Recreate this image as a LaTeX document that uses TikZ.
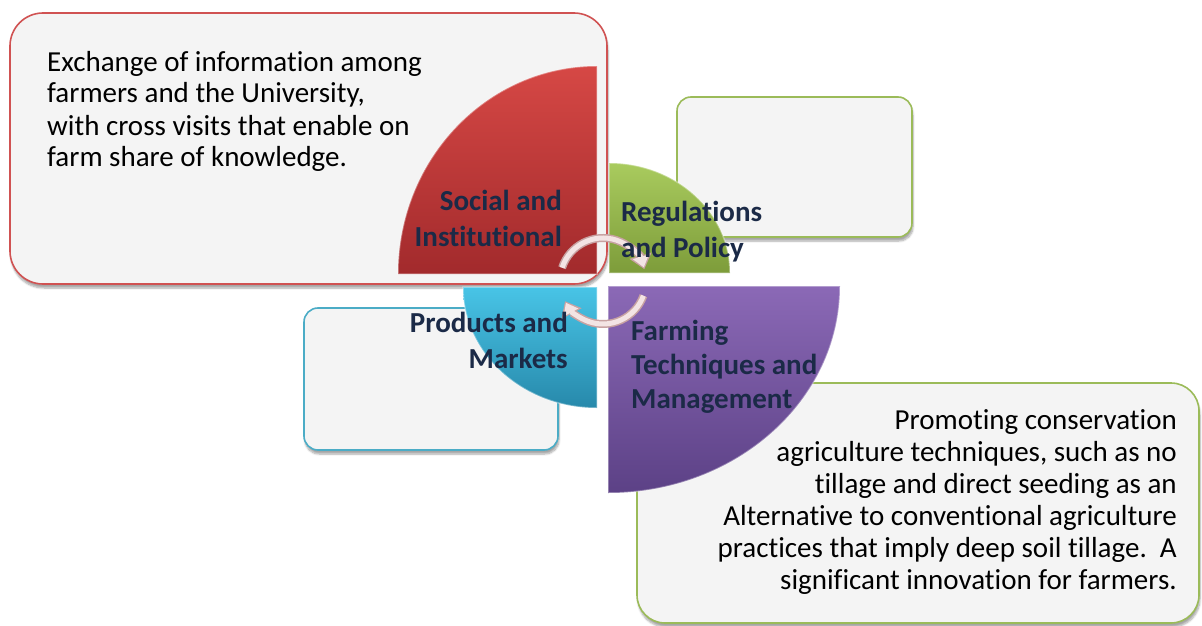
\documentclass[tikz,border=0pt]{standalone}
\usepackage{fontspec}
\setmainfont{Carlito}[Ligatures=NoCommon]
\usetikzlibrary{arrows.meta,shadows.blur}
\definecolor{navy}{HTML}{1B2A47}
\definecolor{boxfill}{HTML}{F4F4F4}
\definecolor{redB}{HTML}{D05252}
\definecolor{greenB}{HTML}{9BBB59}
\definecolor{cyanB}{HTML}{4BACC6}
\definecolor{redT}{HTML}{D64845}
\definecolor{redD}{HTML}{A22A2C}
\definecolor{greenT}{HTML}{A9CB5E}
\definecolor{greenD}{HTML}{7D9C3A}
\definecolor{cyanT}{HTML}{48C4E6}
\definecolor{cyanD}{HTML}{2789AB}
\definecolor{purT}{HTML}{8B69B6}
\definecolor{purD}{HTML}{5C4186}
\definecolor{arrowfill}{HTML}{F3E4E4}
\definecolor{arrowedge}{HTML}{C8A2A2}
\tikzset{
  box/.style={draw, fill=boxfill, line width=1.6pt, inner sep=0pt, outer sep=0pt,
    blur shadow={shadow xshift=1pt, shadow yshift=-4pt, shadow blur steps=6, shadow opacity=35}},
  quad/.style={draw=white, draw opacity=0.35, line width=1.5pt},
  body/.style={font=\fontsize{29}{32}\selectfont, inner sep=0pt, text=black},
  label/.style={font=\fontsize{29}{36}\selectfont\bfseries, inner sep=0pt, text=navy},
  arrowout/.style={draw=arrowedge, line width=8pt, -{Triangle[length=14pt, width=22pt]}},
  arrowin/.style={draw=arrowfill, line width=5pt, -{Triangle[length=11pt, width=16pt]}, shorten >=1.8pt}
}
\begin{document}
\begin{tikzpicture}[x=1pt,y=-1pt]
\useasboundingbox (0,0) rectangle (1202,626);
% boxes
\node[box, draw=redB, rounded corners=33pt, minimum width=597pt, minimum height=271pt] (redbox) at (308.5,148.5) {};
\node[box, draw=greenB, rounded corners=14pt, minimum width=235pt, minimum height=140pt] (greenbox) at (794.5,167) {};
\node[box, draw=cyanB, rounded corners=14pt, minimum width=254pt, minimum height=142pt] (cyanbox) at (431,379) {};
\node[box, draw=greenB, rounded corners=28pt, minimum width=562pt, minimum height=240pt] (purbox) at (918,503) {};
% quadrants
\path[quad, top color=redT, bottom color=redD] (597,274) -- (398,274) arc[start angle=180, end angle=270, x radius=199, y radius=208] -- cycle;
\path[quad, top color=greenT, bottom color=greenD] (609,273) -- (609,163) arc[start angle=270, end angle=360, x radius=121, y radius=110] -- cycle;
\path[quad, top color=cyanT, bottom color=cyanD] (597,287) -- (463,287) arc[start angle=180, end angle=90, x radius=134, y radius=121] -- cycle;
\path[quad, top color=purT, bottom color=purD] (608,286) -- (840,286) arc[start angle=0, end angle=90, x radius=232, y radius=207] -- cycle;
% cycle arrows
\coordinate (cyc) at (603,281);
\draw[arrowout] ([shift={(-162:43)}]cyc) arc[start angle=-162, end angle=-16, radius=43];
\draw[arrowin] ([shift={(-162:43)}]cyc) arc[start angle=-162, end angle=-16, radius=43];
\draw[arrowout] ([shift={(20:43)}]cyc) arc[start angle=20, end angle=152, radius=43];
\draw[arrowin] ([shift={(20:43)}]cyc) arc[start angle=20, end angle=152, radius=43];
% texts
\node[body, anchor=base west] (redtext) at (47,71) {\begin{tabular}[t]{@{}l@{}}Exchange of information among\\farmers and the University,\\with cross visits that enable on\\farm share of knowledge.\end{tabular}};
\node[body, anchor=base east] (purtext) at (1177,429) {\begin{tabular}[t]{@{}r@{}}Promoting conservation\\agriculture techniques, such as no\\tillage and direct seeding as an\\Alternative to conventional agriculture\\practices that imply deep soil tillage.\ \ A\\significant innovation for farmers.\end{tabular}};
\node[label, anchor=base east] (social) at (562,210) {\begin{tabular}[t]{@{}r@{}}Social and\\Institutional\end{tabular}};
\node[label, anchor=base west] (regul) at (621,221) {\begin{tabular}[t]{@{}l@{}}Regulations\\and Policy\end{tabular}};
\node[label, anchor=base east] (prod) at (568,332) {\begin{tabular}[t]{@{}r@{}}Products and\\Markets\end{tabular}};
\node[label, anchor=base west, font=\fontsize{29}{34}\selectfont\bfseries] (farm) at (631,340) {\begin{tabular}[t]{@{}l@{}}Farming\\Techniques and\\Management\end{tabular}};
\end{tikzpicture}
\end{document}
